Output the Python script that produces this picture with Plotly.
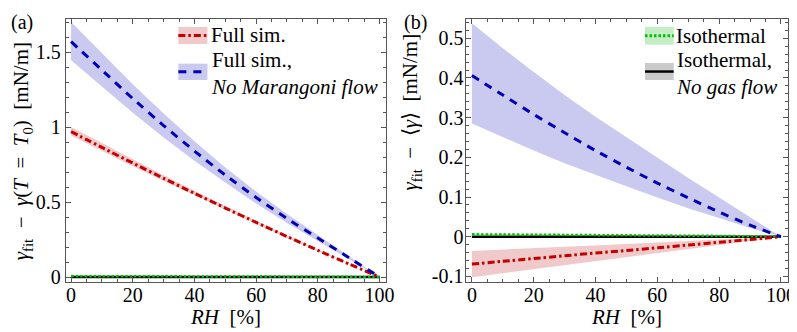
import plotly.graph_objects as go
from plotly.subplots import make_subplots

# ---------------- data ----------------
rh = [0, 10, 20, 30, 40, 50, 60, 70, 80, 90, 100]

# panel (a): gamma_fit - gamma(T=T0)
a_full = [0.97, 0.864, 0.76, 0.658, 0.558, 0.46, 0.364, 0.27, 0.178, 0.088, 0.0]
a_full_hi = [1.00, 0.891, 0.784, 0.678, 0.575, 0.474, 0.375, 0.278, 0.183, 0.091, 0.0]
a_full_lo = [0.943, 0.84, 0.739, 0.64, 0.543, 0.447, 0.354, 0.262, 0.173, 0.085, 0.0]
a_nomar = [1.57, 1.38, 1.19, 1.01, 0.84, 0.68, 0.53, 0.39, 0.26, 0.13, 0.0]
a_nomar_hi = [1.70, 1.49, 1.285, 1.09, 0.905, 0.73, 0.57, 0.42, 0.28, 0.14, 0.0]
a_nomar_lo = [1.445, 1.27, 1.095, 0.93, 0.775, 0.63, 0.49, 0.36, 0.24, 0.12, 0.0]
a_iso = [0.006, 0.0055, 0.005, 0.0045, 0.004, 0.0035, 0.003, 0.0025, 0.002, 0.001, 0.0]
a_iso_hi = [0.009, 0.008, 0.0075, 0.0068, 0.006, 0.0053, 0.0045, 0.0038, 0.003, 0.0015, 0.0]
a_iso_lo = [0.003, 0.003, 0.0025, 0.0023, 0.002, 0.0018, 0.0015, 0.0013, 0.001, 0.0005, 0.0]
a_nogas = [0.0] * 11

# panel (b): gamma_fit - <gamma>
b_full = [-0.069, -0.062, -0.055, -0.048, -0.041, -0.035, -0.028, -0.021, -0.014, -0.007, 0.0]
b_full_hi = [-0.036, -0.032, -0.029, -0.025, -0.022, -0.018, -0.015, -0.011, -0.007, -0.004, 0.0]
b_full_lo = [-0.102, -0.092, -0.082, -0.072, -0.062, -0.052, -0.042, -0.032, -0.021, -0.011, 0.0]
b_nomar = [0.406, 0.357, 0.308, 0.262, 0.217, 0.175, 0.135, 0.098, 0.062, 0.029, 0.0]
b_nomar_hi = [0.538, 0.475, 0.415, 0.357, 0.302, 0.25, 0.198, 0.148, 0.099, 0.05, 0.0]
b_nomar_lo = [0.285, 0.25, 0.217, 0.185, 0.155, 0.127, 0.099, 0.072, 0.047, 0.022, 0.0]
b_iso = [0.006, 0.0055, 0.005, 0.0045, 0.004, 0.0035, 0.003, 0.0025, 0.002, 0.001, 0.0]
b_iso_hi = [0.008, 0.0073, 0.0066, 0.006, 0.0053, 0.0046, 0.004, 0.0033, 0.0026, 0.0013, 0.0]
b_iso_lo = [0.004, 0.0037, 0.0034, 0.003, 0.0027, 0.0024, 0.002, 0.0017, 0.0014, 0.0007, 0.0]
b_nogas = [0.0] * 11

x_ticks = [0, 20, 40, 60, 80, 100]
x_ticktext = ["0", "20", "40", "60", "80", "100"]
ya_ticks = [0, 0.5, 1, 1.5]
ya_ticktext = ["0", "0.5", "1", "1.5"]
yb_ticks = [-0.1, 0, 0.1, 0.2, 0.3, 0.4, 0.5]
yb_ticktext = ["-0.1", "0", "0.1", "0.2", "0.3", "0.4", "0.5"]

# ---------------- style ----------------
FONT = "Liberation Serif"
FS = 21
TFS = 20
RED, RED_BAND = "#c40000", "rgba(226,150,150,0.5)"
BLUE, BLUE_BAND = "#0000b4", "rgba(150,150,226,0.5)"
GREEN, GREEN_BAND = "#00c000", "rgba(140,220,140,0.5)"
BLACK, GREY_BAND = "#000000", "rgba(150,150,150,0.5)"
FRAME = "#555555"

W, H = 797, 332


def px(x):
    return x / W


def py(y):
    return 1 - y / H


fig = make_subplots(rows=1, cols=2)


def band(hi, lo, color, col):
    fig.add_trace(go.Scatter(x=rh, y=hi, mode="lines", line=dict(width=0),
                             hoverinfo="skip", showlegend=False), row=1, col=col)
    fig.add_trace(go.Scatter(x=rh, y=lo, mode="lines", line=dict(width=0),
                             fill="tonexty", fillcolor=color,
                             hoverinfo="skip", showlegend=False), row=1, col=col)


def line(y, color, dash, width, col):
    fig.add_trace(go.Scatter(x=rh, y=y, mode="lines",
                             line=dict(color=color, dash=dash, width=width, shape="spline", smoothing=0.6),
                             showlegend=False), row=1, col=col)


DASH_BLUE = "8px,7px"
DASH_RED = "7px,3px,2.5px,3px"
DOT_GREEN = "2.5px,2px"

# panel a
band(a_nomar_hi, a_nomar_lo, BLUE_BAND, 1)
band(a_full_hi, a_full_lo, RED_BAND, 1)
band(a_iso_hi, a_iso_lo, GREEN_BAND, 1)
line(a_nogas, BLACK, "solid", 2.5, 1)
line(a_iso, GREEN, DOT_GREEN, 2.5, 1)
line(a_full, RED, DASH_RED, 3, 1)
line(a_nomar, BLUE, DASH_BLUE, 3, 1)

# panel b
band(b_nomar_hi, b_nomar_lo, BLUE_BAND, 2)
band(b_full_hi, b_full_lo, RED_BAND, 2)
band(b_iso_hi, b_iso_lo, GREEN_BAND, 2)
line(b_nogas, BLACK, "solid", 2.5, 2)
line(b_iso, GREEN, DOT_GREEN, 2.5, 2)
line(b_full, RED, DASH_RED, 3, 2)
line(b_nomar, BLUE, DASH_BLUE, 3, 2)

axis_common = dict(
    showline=True, linecolor=FRAME, linewidth=1, mirror="ticks",
    ticks="inside", ticklen=5, tickwidth=1, tickcolor=FRAME,
    showgrid=False, zeroline=False,
    tickfont=dict(family=FONT, size=TFS, color="black"),
)

fig.update_xaxes(**axis_common, tickvals=x_ticks, ticktext=x_ticktext, ticklabelstandoff=-5,
                 minor=dict(dtick=5, ticks="inside", ticklen=3, tickcolor=FRAME, showgrid=False))
fig.update_xaxes(domain=[px(58.5), px(382)], range=[-1.7, 102.0], row=1, col=1)
fig.update_xaxes(domain=[px(463.7), px(789)], range=[-1.76, 102.3], row=1, col=2)

fig.update_yaxes(**axis_common)
fig.update_yaxes(domain=[py(279), py(11)], range=[-0.033, 1.722],
                 tickvals=ya_ticks, ticktext=ya_ticktext,
                 minor=dict(dtick=0.1, tick0=0, ticks="inside", ticklen=3, tickcolor=FRAME, showgrid=False),
                 row=1, col=1)
fig.update_yaxes(domain=[py(279), py(11)], range=[-0.114, 0.549],
                 tickvals=yb_ticks, ticktext=yb_ticktext, ticklabelstandoff=-2,
                 minor=dict(dtick=0.02, tick0=0, ticks="inside", ticklen=3, tickcolor=FRAME, showgrid=False),
                 row=1, col=2)

shapes = []
annotations = []


def legend_entry(x0, x1, y0, y1, yl, band_color, color, dash, width):
    shapes.append(dict(type="rect", xref="paper", yref="paper",
                       x0=px(x0), x1=px(x1), y0=py(y1), y1=py(y0),
                       fillcolor=band_color, line=dict(width=0), layer="above"))
    shapes.append(dict(type="line", xref="paper", yref="paper",
                       x0=px(x0), x1=px(x1), y0=py(yl), y1=py(yl),
                       line=dict(color=color, dash=dash, width=width), layer="above"))


def text(x, y, s, xanchor="left", angle=0, size=FS):
    annotations.append(dict(x=px(x), y=py(y), xref="paper", yref="paper", text=s,
                            showarrow=False, xanchor=xanchor, yanchor="middle",
                            align="left", textangle=angle,
                            font=dict(family=FONT, size=size, color="black")))


# legend (a)
legend_entry(172.3, 201.7, 19.3, 36.7, 28, RED_BAND, RED, DASH_RED, 3)
legend_entry(172.3, 201.7, 56.7, 73.3, 65, BLUE_BAND, BLUE, DASH_BLUE, 3)
text(203, 28, "Full sim.")
text(203, 66.7, "Full sim.,<br><i>No Marangoni flow</i>")

# legend (b)
legend_entry(644.3, 673.3, 19.3, 37.3, 28.3, GREEN_BAND, GREEN, DOT_GREEN, 3)
legend_entry(644.3, 673.3, 56.0, 73.3, 64.7, GREY_BAND, BLACK, "solid", 2.5)
text(674, 28.3, "Isothermal")
text(674, 66.7, "Isothermal,<br><i>No gas flow</i>")

# axis titles and panel labels
text(220, 315, "<i>RH</i>  [%]", xanchor="center")
text(626, 315, "<i>RH</i>  [%]", xanchor="center")
text(15, 146, "<i>γ</i><sub>fit</sub>\u2002−\u2002<i>γ</i>(<i>T</i>\u2002=\u2002<i>T</i><sub>0</sub>)\u2002[mN/m]",
     xanchor="center", angle=-90)
text(408, 106, "<i>γ</i><sub>fit</sub>\u2002−\u2002⟨<i>γ</i>⟩\u2002[mN/m]", xanchor="center", angle=-90)
text(1, 15, "(a)", size=20)
text(399, 15, "(b)", size=20)

fig.update_layout(
    width=W, height=H, margin=dict(l=0, r=0, t=0, b=0),
    paper_bgcolor="white", plot_bgcolor="white",
    showlegend=False, shapes=shapes, annotations=annotations,
    font=dict(family=FONT, size=FS, color="black"),
)

fig.write_html("out.html")
